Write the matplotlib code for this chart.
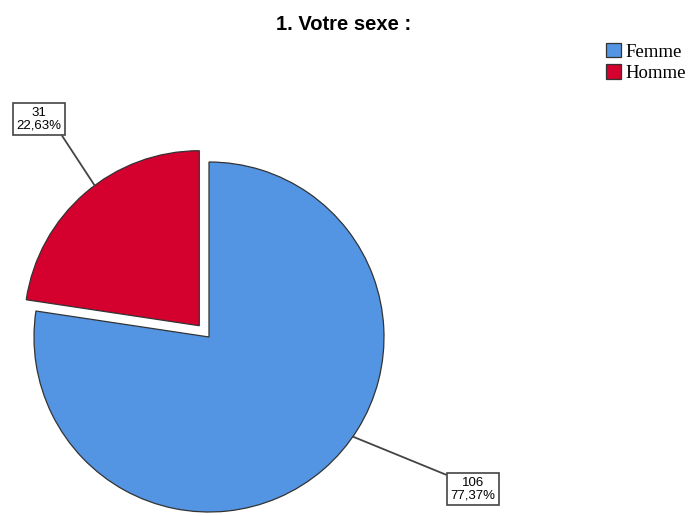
import numpy as np
import matplotlib
matplotlib.use("Agg")
import matplotlib.pyplot as plt

# data
labels = ["Femme", "Homme"]
counts = [106, 31]
pct_text = ["77,37%", "22,63%"]
colors = ["#5394e3", "#d4002e"]

W, H = 688, 516
cx, cy, R = 209, 337, 175  # pie centre / radius in pixels

fig = plt.figure(figsize=(W / 100, H / 100), dpi=100)
ax = fig.add_axes([0, 0, 1, 1])

wedges, _ = ax.pie(counts, colors=colors, startangle=90, counterclock=False,
                   explode=[0, 0.085], radius=1.0,
                   wedgeprops=dict(edgecolor="#333333", linewidth=0.9))
ax.set_xlim(-cx / R, (W - cx) / R)
ax.set_ylim(-(H - cy) / R, cy / R)
ax.set_aspect("equal")
ax.axis("off")


def px(x, y):
    return (x - cx) / R, (cy - y) / R


# label boxes
box = dict(boxstyle="square,pad=0.3", fc="white", ec="#444444", lw=1.2)
line = dict(arrowstyle="-", color="#444444", lw=1.3, shrinkA=0, shrinkB=0)

# Homme label (exploded wedge)
w = wedges[1]
ang = np.deg2rad((w.theta1 + w.theta2) / 2 - 4)
ox, oy = w.center
ax.annotate(f"{counts[1]}\n{pct_text[1]}", xy=(ox + np.cos(ang), oy + np.sin(ang)),
            xytext=px(39, 119), ha="center", va="center", fontsize=9.5,
            family="Liberation Sans", linespacing=1.1, bbox=box,
            arrowprops=dict(line, relpos=(0.95, 0)))

# Femme label
ang = np.deg2rad(-34.7)
ax.annotate(f"{counts[0]}\n{pct_text[0]}", xy=(np.cos(ang), np.sin(ang)),
            xytext=px(473, 489), ha="center", va="center", fontsize=9.5,
            family="Liberation Sans", linespacing=1.1, bbox=box,
            arrowprops=dict(line, relpos=(0, 1)))

fig.text(0.5, 1 - 24 / H, "1. Votre sexe :", ha="center", va="center",
         fontsize=14.5, fontweight="bold", family="Liberation Sans")

leg = fig.legend(wedges, labels, loc="upper left",
                 bbox_to_anchor=(606 / W, 1 - 43 / H), frameon=False,
                 borderaxespad=0, borderpad=0, handlelength=0.8,
                 handleheight=0.8, handletextpad=0.25, labelspacing=0.2,
                 prop=dict(family="Liberation Serif", size=13.5))

fig.savefig("out.png", dpi=100)
